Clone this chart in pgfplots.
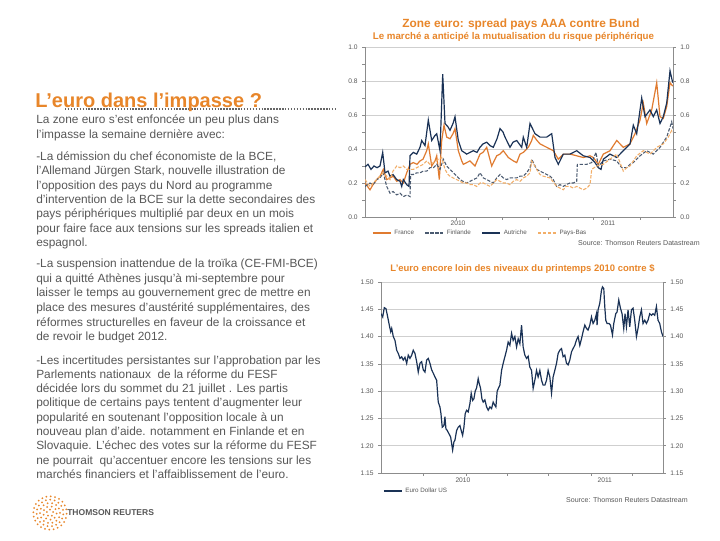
\documentclass[border=0pt]{standalone}
\usepackage{fontspec}
\setmainfont{Liberation Sans}
\usepackage{pgfplots}
\pgfplotsset{compat=1.18}
\definecolor{orangeT}{HTML}{E8862A}
\definecolor{txtgrey}{HTML}{585858}
\definecolor{dotgrey}{HTML}{666666}
\definecolor{gridgrey}{HTML}{CFCFCF}
\definecolor{axgrey}{HTML}{8C8C8C}
\definecolor{franceC}{HTML}{E07B30}
\definecolor{paysbasC}{HTML}{F2AE68}
\definecolor{autricheC}{HTML}{1A3256}
\definecolor{finlandeC}{HTML}{4A5A70}

% one line of the left column: baseline at y pixels from the top
\newcommand\tl[2]{\node[anchor=base west,inner sep=0,text=txtgrey,font=\fontsize{8.9}{10.7}\selectfont] at (27pt,{(405-0.75*#1)*1pt}) {#2};}

\pgfplotsset{
  slide/.style={
    scale only axis,
    tick label style={font=\fontsize{5}{6}\selectfont, text=txtgrey},
    /pgf/number format/assume math mode=true,
    axis line style={draw=axgrey, line width=0.5pt},
    tick style={draw=axgrey, line width=0.4pt},
    tick align=outside, major tick length=2pt, minor tick length=2pt,
  },
  legimg/.style={legend image code/.code={\draw[##1] (0pt,0pt) -- (13.5pt,0pt);}},
  legsty/.style={legend style={draw=none, fill=none, inner sep=0pt,
    font=\fontsize{4.7}{5.5}\selectfont, text=txtgrey,
    nodes={inner sep=0.6pt},
    /tikz/every odd column/.append style={column sep=1.6pt},
    /tikz/every even column/.append style={column sep=7.5pt}}},
}

\begin{document}
\begin{tikzpicture}
\useasboundingbox[fill=white] (0,0) rectangle (540pt,405pt);

% left column
\draw[line width=1.1pt, dotgrey, dash pattern=on 1.1pt off 1.1pt] (48.75pt,323.25pt) -- (251.25pt,323.25pt);
\node[anchor=base west, inner sep=0, text=orangeT, font=\fontsize{15}{17}\selectfont\bfseries] at (26.25pt,324pt) {L’euro dans l’impasse ?};

\tl{124}{La zone euro s'est enfoncée un peu plus dans}
\tl{139}{l'impasse la semaine dernière avec:}

\tl{160.7}{-La démission du chef économiste de la BCE,}
\tl{175}{l'Allemand Jürgen Stark, nouvelle illustration de}
\tl{189.2}{l'opposition des pays du Nord au programme}
\tl{203.5}{d'intervention de la BCE sur la dette secondaires des}
\tl{217.8}{pays périphériques multiplié par deux en un mois}
\tl{232}{pour faire face aux tensions sur les spreads italien et}
\tl{246.2}{espagnol.}

\tl{267.3}{-La suspension inattendue de la troïka (CE-FMI-BCE)}
\tl{282}{qui a quitté Athènes jusqu'à mi-septembre pour}
\tl{296.7}{laisser le temps au gouvernement grec de mettre en}
\tl{311.3}{place des mesures d'austérité supplémentaires, des}
\tl{326}{réformes structurelles en faveur de la croissance et}
\tl{340.7}{de revoir le budget 2012.}

\tl{364}{-Les incertitudes persistantes sur l'approbation par les}
\tl{378.3}{Parlements nationaux~~de la réforme du FESF}
\tl{392.6}{décidée lors du sommet du 21 juillet . Les partis}
\tl{406.9}{politique de certains pays tentent d'augmenter leur}
\tl{421.2}{popularité en soutenant l'opposition locale à un}
\tl{435.5}{nouveau plan d'aide. notamment en Finlande et en}
\tl{449.8}{Slovaquie. L'échec des votes sur la réforme du FESF}
\tl{464.1}{ne pourrait~~qu'accentuer encore les tensions sur les}
\tl{478.4}{marchés financiers et l'affaiblissement de l'euro.}

% logo
\foreach \r/\n in {2.5/5,5/9,7.5/14,10/19,12.5/24}{
  \foreach \k in {1,...,\n}{
    \fill[orangeT] ({37.5pt+\r pt*cos(360*\k/\n+7*\r)},{20.25pt+\r pt*sin(360*\k/\n+7*\r)}) circle (0.75pt);
  }
}
\node[anchor=west, inner sep=0, text=txtgrey, font=\fontsize{6.4}{7}\selectfont\bfseries] at (50.25pt,20.25pt) {THOMSON REUTERS};

% chart 1 titles
\node[text=orangeT, font=\fontsize{8.9}{10}\selectfont\bfseries] at (390.75pt,387pt) {Zone euro: spread pays AAA contre Bund};
\node[text=orangeT, font=\fontsize{7.3}{8}\selectfont\bfseries] at (385.1pt,377.25pt) {Le marché a anticipé la mutualisation du risque périphérique};
\node[anchor=east, inner sep=0, text=txtgrey, font=\fontsize{5.3}{6}\selectfont] at (525pt,222.75pt) {Source: Thomson Reuters Datastream};

\begin{axis}[slide, legsty,
  at={(273.75pt,242.25pt)}, anchor=south west,
  width=231pt, height=127.5pt,
  xmin=0, xmax=308, ymin=0, ymax=1,
  axis x line*=bottom, axis y line*=left,
  ytick={0,0.2,0.4,0.6,0.8,1}, minor y tick num=1,
  yticklabel style={/pgf/number format/.cd, fixed, fixed zerofill, precision=1},
  ymajorgrids, grid style={draw=gridgrey, line width=0.5pt},
  xtick={93,243}, xticklabels={2010,2011}, major x tick style={draw=none},
  xticklabel style={yshift=3pt},
  minor xtick={45,91,137,183,228,275},
  legend columns=-1,
  legend style={at={(0.023,-0.094)}, anchor=west},
  legimg,
]
\addplot[franceC, line width=0.9pt] coordinates {
(0,0.20) (5,0.16) (8,0.19) (11.7,0.22) (15,0.24) (18.3,0.28) (21.7,0.22) (25,0.23) (28.3,0.24)
(31.7,0.21) (35,0.22) (38.3,0.20) (41.7,0.26) (45,0.31) (48.3,0.32) (52,0.31) (55,0.33) (58,0.34)
(61.7,0.39) (63.3,0.43) (66.7,0.30) (70,0.33) (71.7,0.36) (74.3,0.22) (76.7,0.45) (79,0.54)
(81.7,0.47) (85,0.46) (88,0.49) (90,0.52) (93.3,0.39) (96.7,0.33) (98.3,0.31) (101.7,0.32)
(105,0.33) (110,0.30) (115,0.37) (118,0.38) (121.7,0.41) (126.7,0.30) (131.7,0.36) (135,0.37)
(138.3,0.39) (143.3,0.35) (148.3,0.33) (151.7,0.32) (155,0.37) (158.3,0.38) (163.3,0.41)
(166.7,0.45) (168.3,0.48) (172,0.45) (175,0.43) (181.7,0.41) (188.3,0.39) (193.3,0.34)
(198.3,0.37) (205,0.37) (211.7,0.36) (218.3,0.35) (225,0.36) (228.3,0.35) (233.3,0.31)
(238.3,0.37) (245,0.39) (251.7,0.45) (258.3,0.41) (265,0.43) (270,0.49) (275,0.57) (278.3,0.67)
(281.7,0.55) (286.7,0.63) (291.7,0.79) (295,0.59) (298.3,0.58) (301.7,0.65) (305,0.79) (307.7,0.77)
};
\addlegendentry{France}
\addplot[finlandeC, line width=0.8pt, dash pattern=on 2.5pt off 1.2pt] coordinates {
(0,0.18) (5,0.20) (8,0.19) (11.7,0.22) (15,0.23) (18.3,0.26) (21.7,0.18) (25,0.14) (28,0.15)
(31.7,0.13) (35,0.14) (38.3,0.12) (42,0.13) (45,0.12) (45.7,0.25) (48.3,0.25) (51.7,0.26)
(55,0.26) (58.3,0.27) (61.7,0.27) (65,0.29) (68.3,0.29) (71.7,0.31) (75,0.28) (78.3,0.34)
(81.7,0.30) (85,0.28) (88.3,0.26) (92,0.24) (95,0.22) (98,0.21) (101.7,0.20) (105,0.21)
(108.3,0.22) (112,0.23) (115,0.26) (118.3,0.23) (121.7,0.22) (125,0.21) (128.3,0.20) (131.7,0.23)
(135,0.25) (138.3,0.23) (141.7,0.22) (145,0.23) (148.3,0.23) (151.7,0.23) (155,0.24) (158,0.24)
(161.7,0.26) (165,0.29) (166.7,0.34) (171.7,0.28) (175,0.27) (178.3,0.26) (181.7,0.25) (185,0.24)
(188.3,0.22) (191.7,0.18) (195,0.19) (198.3,0.18) (201,0.19) (205,0.20) (208.3,0.20) (211.7,0.21)
(212.3,0.31) (215,0.31) (221.7,0.31) (226.7,0.32) (231,0.38) (233.3,0.30) (238.3,0.33) (245,0.34)
(251.7,0.33) (256.7,0.29) (261.7,0.29) (265,0.31) (268.3,0.32) (275,0.36) (281.7,0.39)
(288.3,0.37) (295,0.41) (301.7,0.47) (306.7,0.56) (308,0.52)
};
\addlegendentry{Finlande}
\addplot[autricheC, line width=0.9pt] coordinates {
(0,0.295) (3,0.31) (6,0.28) (9,0.30) (12,0.29) (15,0.30) (17.7,0.38) (20,0.26) (23,0.27) (25,0.24)
(28,0.25) (31.7,0.22) (35,0.21) (36.7,0.18) (38.3,0.22) (41.7,0.19) (44,0.18) (45,0.36) (48.3,0.38)
(51.7,0.37) (55,0.41) (56.7,0.45) (60,0.42) (63.3,0.57) (66.7,0.45) (70,0.48) (71.7,0.49) (75,0.39)
(77.7,0.84) (80,0.55) (83,0.53) (85,0.51) (88,0.55) (90,0.59) (93.3,0.45) (96.7,0.39) (101.7,0.37)
(105,0.38) (108.3,0.39) (112,0.38) (115,0.41) (118,0.43) (121.7,0.44) (125,0.42) (128.3,0.41)
(132,0.46) (135,0.52) (138,0.50) (140,0.47) (145,0.41) (148,0.44) (151.7,0.45) (156.7,0.41)
(158.3,0.47) (161.7,0.41) (165,0.55) (170,0.49) (175,0.47) (181.7,0.47) (186.7,0.49) (190,0.35)
(193.3,0.31) (198.3,0.37) (205,0.37) (211.7,0.39) (218.3,0.36) (225,0.35) (230,0.32) (233.3,0.29)
(236,0.28) (238.3,0.34) (245,0.37) (251.7,0.35) (258.3,0.39) (265,0.43) (268.3,0.54) (271.7,0.49)
(276.7,0.70) (280,0.59) (285,0.63) (288.3,0.59) (291.7,0.63) (295,0.55) (298.3,0.59) (301.7,0.67)
(305,0.86) (307.7,0.79)
};
\addlegendentry{Autriche}
\addplot[paysbasC, line width=0.8pt, dash pattern=on 2.5pt off 1.2pt] coordinates {
(0,0.22) (5,0.18) (8,0.20) (11.7,0.22) (15,0.24) (18.3,0.26) (21.7,0.24) (25,0.22) (28,0.27)
(31.7,0.30) (35,0.29) (38.3,0.30) (41.7,0.28) (45,0.28) (48.3,0.28) (51.7,0.29) (55,0.30)
(58.3,0.31) (61.7,0.33) (65,0.31) (68.3,0.32) (71.7,0.33) (73.3,0.34) (76.7,0.35) (80,0.28)
(83,0.25) (85,0.24) (88,0.23) (91.7,0.22) (95,0.21) (98.3,0.20) (101.7,0.20) (105,0.19)
(108.3,0.19) (111.7,0.18) (115,0.20) (118.3,0.20) (121.7,0.19) (125,0.18) (128.3,0.20)
(131.7,0.22) (135,0.21) (138.3,0.20) (141.7,0.20) (145,0.19) (148.3,0.21) (151.7,0.22)
(155,0.21) (158.3,0.23) (161.7,0.24) (165,0.26) (166.7,0.33) (171.7,0.28) (175,0.25) (178.3,0.24)
(185,0.23) (191.7,0.18) (195,0.17) (198.3,0.16) (201,0.18) (205,0.18) (208.3,0.17) (211.7,0.18)
(215,0.17) (218.3,0.16) (221.7,0.17) (225,0.19) (226.7,0.28) (231.7,0.30) (238.3,0.31) (245,0.34)
(251.7,0.37) (258.3,0.27) (261.7,0.29) (265,0.30) (271.7,0.36) (278.3,0.39) (285,0.37)
(291.7,0.41) (298.3,0.43) (303.3,0.47) (306.7,0.51) (308,0.50)
};
\addlegendentry{Pays-Bas}
\end{axis}
\begin{axis}[slide,
  at={(273.75pt,242.25pt)}, anchor=south west,
  width=231pt, height=127.5pt,
  xmin=0, xmax=308, ymin=0, ymax=1,
  axis y line*=right, axis x line=none,
  ytick={0,0.2,0.4,0.6,0.8,1}, minor y tick num=1,
  yticklabel style={/pgf/number format/.cd, fixed, fixed zerofill, precision=1},
]
\end{axis}

% chart 2
\node[text=orangeT, font=\fontsize{7.1}{8}\selectfont\bfseries] at (391.9pt,203.25pt) {L'euro encore loin des niveaux du printemps 2010 contre \$};
\node[anchor=east, inner sep=0, text=txtgrey, font=\fontsize{5.3}{6}\selectfont] at (516pt,30pt) {Source: Thomson Reuters Datastream};

\begin{axis}[slide, legsty,
  at={(285.75pt,50.25pt)}, anchor=south west,
  width=211.5pt, height=143.25pt,
  xmin=0, xmax=282.3, ymin=1.15, ymax=1.50,
  axis x line*=bottom, axis y line*=left,
  ytick={1.15,1.20,1.25,1.30,1.35,1.40,1.45,1.50},
  yticklabel style={/pgf/number format/.cd, fixed, fixed zerofill, precision=2},
  ymajorgrids, grid style={draw=gridgrey, line width=0.5pt},
  xtick={82,224}, xticklabels={2010,2011}, major x tick style={draw=none},
  xticklabel style={yshift=2pt},
  minor xtick={42,85,126,167,210,252},
  legend style={at={(0.007,-0.094)}, anchor=west},
  legimg,
]
\addplot[autricheC, line width=0.9pt] coordinates {
(0,1.442) (1.7,1.436) (3.3,1.453) (5,1.451) (6.7,1.436) (8.3,1.421) (9.7,1.409) (10.7,1.415)
(12.3,1.400) (14,1.393) (15.7,1.375) (17.3,1.369) (19,1.360) (20.7,1.363) (22.3,1.357) (24,1.362)
(25.7,1.351) (27.3,1.366) (29,1.360) (30.7,1.366) (32.3,1.375) (34,1.369) (35.7,1.354) (37.3,1.335)
(39,1.351) (40.7,1.354) (42.3,1.339) (44,1.335) (45.7,1.357) (47.3,1.360) (49,1.351) (50.7,1.339)
(52.3,1.333) (54,1.326) (55.7,1.320) (57.3,1.280) (59,1.271) (60,1.259) (61.3,1.234) (63,1.237)
(64,1.253) (65,1.231) (66.3,1.228) (68,1.222) (69.7,1.216) (70.7,1.204) (71.7,1.192) (73,1.207)
(74,1.210) (75.7,1.228) (77.3,1.234) (79,1.237) (80.7,1.225) (81.7,1.219) (83,1.234) (84.3,1.259)
(85.7,1.265) (87.3,1.262) (89,1.277) (90.3,1.296) (91.7,1.283) (93,1.286) (94.3,1.300) (95.7,1.306)
(97.3,1.323) (98.3,1.314) (99.7,1.305) (101,1.286) (102.3,1.280) (104,1.284) (105.7,1.271)
(107.3,1.265) (109,1.271) (110.7,1.268) (112.3,1.280) (114,1.274) (115,1.271) (116.3,1.300)
(117.7,1.306) (119,1.311) (120.7,1.338) (122.3,1.351) (124,1.363) (125.7,1.375) (127.3,1.390)
(129,1.384) (130.7,1.406) (132.3,1.393) (134,1.400) (135.7,1.381) (137.3,1.396) (139,1.387)
(140.7,1.421) (142.3,1.381) (144,1.366) (145.7,1.360) (147.3,1.364) (149,1.344) (150.7,1.338)
(152.3,1.305) (154,1.320) (155.7,1.338) (157.3,1.326) (159,1.338) (160.7,1.320) (162.3,1.311)
(164,1.311) (165.7,1.320) (167.3,1.338) (169,1.326) (170.7,1.296) (172.3,1.326) (174,1.338)
(175.7,1.351) (177.3,1.369) (179,1.375) (180.7,1.378) (182.3,1.363) (184,1.366) (185.7,1.351)
(187.3,1.348) (189,1.357) (190.7,1.372) (192.3,1.378) (194,1.384) (195.7,1.394) (197.3,1.400)
(199,1.384) (200.7,1.396) (202.3,1.409) (204,1.421) (205.7,1.415) (207.3,1.412) (209,1.421)
(210.7,1.436) (212.3,1.424) (214,1.430) (215.7,1.442) (216.3,1.421) (217.3,1.449) (219,1.461)
(220.7,1.485) (221.7,1.491) (223,1.488) (224,1.455) (225,1.430) (226.3,1.424) (228.3,1.424)
(229.7,1.421) (231.7,1.403) (233,1.424) (235,1.442) (236.3,1.445) (238,1.467) (239.7,1.452)
(241.3,1.442) (243,1.415) (244.3,1.442) (245.7,1.418) (247.3,1.449) (249,1.418) (250.7,1.449)
(252.3,1.452) (254,1.430) (255.7,1.400) (257.3,1.415) (259,1.436) (260.7,1.449) (262.3,1.424)
(264,1.430) (265.7,1.424) (267.3,1.430) (269,1.442) (270.7,1.439) (272.3,1.442) (274,1.439)
(275.7,1.455) (277.3,1.430) (279,1.424) (280.7,1.409) (282.3,1.400)
};
\addlegendentry{Euro Dollar US}
\end{axis}
\begin{axis}[slide,
  at={(285.75pt,50.25pt)}, anchor=south west,
  width=211.5pt, height=143.25pt,
  xmin=0, xmax=282.3, ymin=1.15, ymax=1.50,
  axis y line*=right, axis x line=none,
  ytick={1.15,1.20,1.25,1.30,1.35,1.40,1.45,1.50},
  yticklabel style={/pgf/number format/.cd, fixed, fixed zerofill, precision=2},
]
\end{axis}
\end{tikzpicture}
\end{document}
